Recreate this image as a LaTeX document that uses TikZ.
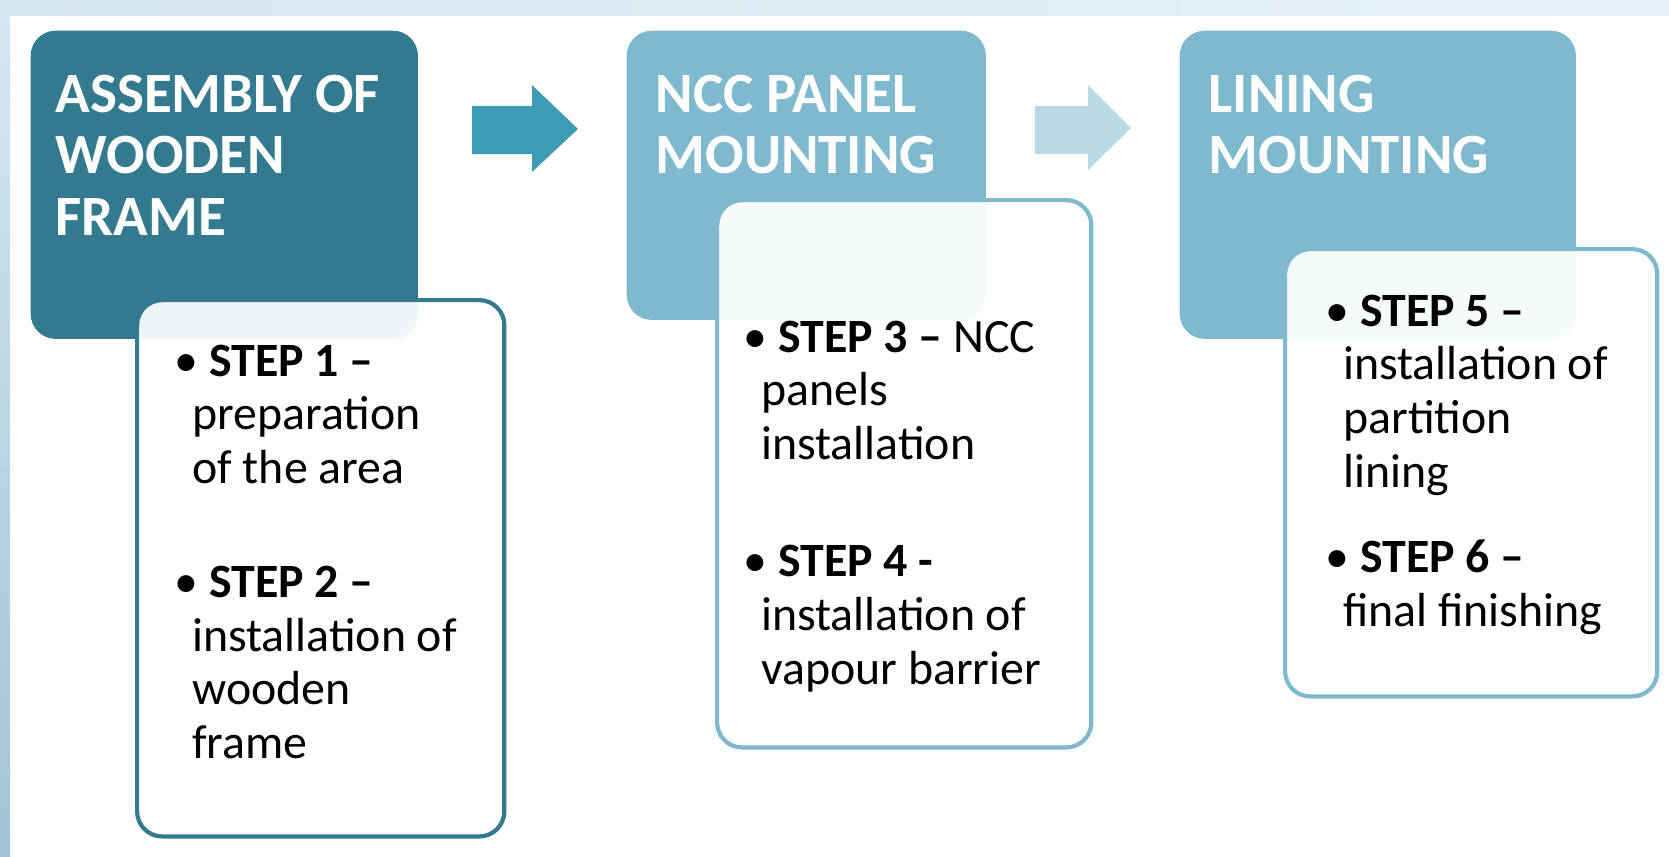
\documentclass[tikz,border=0pt]{standalone}
\usepackage{fontspec}
\setmainfont{Carlito}
\usetikzlibrary{positioning}

\definecolor{darkteal}{RGB}{52,122,143}
\definecolor{paleteal}{RGB}{127,185,205}
\definecolor{arrowteal}{RGB}{62,155,182}
\definecolor{arrowpale}{RGB}{186,217,229}
\definecolor{edgelight}{RGB}{214,232,241}
\definecolor{edgedark}{RGB}{160,196,214}

\tikzset{
  stage/.style={rounded corners=0.25cm, anchor=north west, inner sep=0pt},
  stepbox/.style={rounded corners=0.25cm, anchor=north west, inner sep=0pt,
    fill=white, fill opacity=0.93, line width=1.2pt},
  stagetext/.style={anchor=base west, inner sep=0pt, text=white,
    font=\fontsize{16.2}{17.6}\selectfont\bfseries},
  steptext/.style={anchor=base west, inner sep=0pt,
    font=\fontsize{13.6}{15.3}\selectfont}
}

\begin{document}
\begin{tikzpicture}[x=0.01cm, y=-0.01cm]
    % page with its blue edges
    \fill[white] (0,0) rectangle (1669,856);
    \shade[left color=edgelight, right color=edgelight!60] (0,0) rectangle (1669,15);
    \shade[top color=edgelight, bottom color=edgedark] (0,0) rectangle (10,856);

    % stage boxes
    \node[stage, fill=darkteal, minimum width=3.87cm, minimum height=3.08cm] (assembly) at (30,30) {};
    \node[stage, fill=paleteal, minimum width=3.59cm, minimum height=2.89cm] (ncc) at (626,30) {};
    \node[stage, fill=paleteal, minimum width=3.96cm, minimum height=3.08cm] (lining) at (1179,30) {};

    \node[stagetext] (assemblytext) at (55,112) {\begin{tabular}[t]{@{}l@{}}
        ASSEMBLY OF\\
        WOODEN\\
        FRAME
    \end{tabular}};
    \node[stagetext] (ncctext) at (655,112) {\begin{tabular}[t]{@{}l@{}}
        NCC PANEL\\
        MOUNTING
    \end{tabular}};
    \node[stagetext] (liningtext) at (1208,112) {\begin{tabular}[t]{@{}l@{}}
        LINING\\
        MOUNTING
    \end{tabular}};

    % arrows between the stages
    \fill[arrowteal] (472,106) -- (532,106) -- (532,85) -- (578,129) -- (532,172) -- (532,154) -- (472,154) -- cycle;
    \fill[arrowpale] (1035,106) -- (1088,106) -- (1088,85) -- (1131,128) -- (1088,170) -- (1088,154) -- (1035,154) -- cycle;

    % step boxes
    \node[stepbox, draw=darkteal, minimum width=3.67cm, minimum height=5.36cm] (steps12) at (135,298) {};
    \node[stepbox, draw=paleteal, minimum width=3.74cm, minimum height=5.47cm] (steps34) at (715,198) {};
    \node[stepbox, draw=paleteal, minimum width=3.72cm, minimum height=4.47cm] (steps56) at (1283,247) {};

    \node[steptext] (steps12text) at (174,376) {\begin{tabular}[t]{@{}l@{}}
        \textbullet\ \textbf{STEP 1 --}\\
        \hspace*{5pt}preparation\\
        \hspace*{5pt}of the area\\[17pt]
        \textbullet\ \textbf{STEP 2 --}\\
        \hspace*{5pt}installation of\\
        \hspace*{5pt}wooden\\
        \hspace*{5pt}frame
    \end{tabular}};
    \node[steptext] (steps34text) at (743,352) {\begin{tabular}[t]{@{}l@{}}
        \textbullet\ \textbf{STEP 3 --} NCC\\
        \hspace*{5pt}panels\\
        \hspace*{5pt}installation\\[18pt]
        \textbullet\ \textbf{STEP 4 -}\\
        \hspace*{5pt}installation of\\
        \hspace*{5pt}vapour barrier
    \end{tabular}};
    \node[steptext] (steps56text) at (1325,326) {\begin{tabular}[t]{@{}l@{}}
        \textbullet\ \textbf{STEP 5 --}\\
        \hspace*{5pt}installation of\\
        \hspace*{5pt}partition\\
        \hspace*{5pt}lining\\[9pt]
        \textbullet\ \textbf{STEP 6 --}\\
        \hspace*{5pt}final finishing
    \end{tabular}};
\end{tikzpicture}
\end{document}
